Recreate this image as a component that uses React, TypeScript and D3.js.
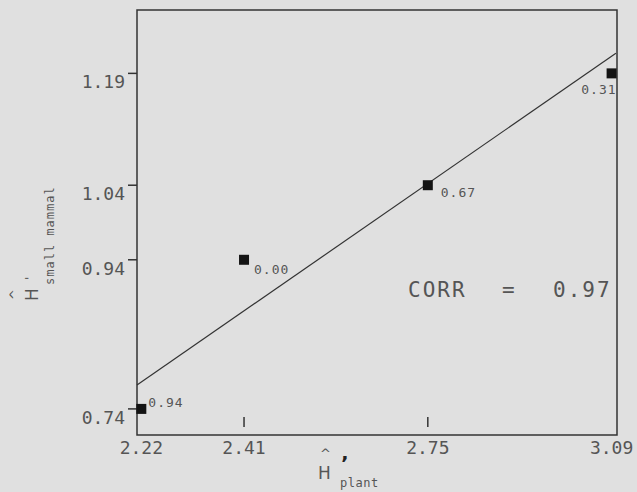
import * as d3 from 'd3'

// measured values (H' plant vs H' small mammal)
const X_VALUES = [2.22, 2.41, 2.75, 3.09]
const Y_VALUES = [0.74, 0.94, 1.04, 1.19]
const POINT_LABELS = ['0.94', '0.00', '0.67', '0.31']
const X_TICKS = [2.22, 2.41, 2.75, 3.09]
const Y_TICKS = [0.74, 0.94, 1.04, 1.19]
// fitted line, read at both ends of the frame
const FIT_X = [2.212, 3.098]
const FIT_Y = [0.772, 1.217]
const CORR = 0.97

const W = 637
const H = 492
const frame = { left: 137, right: 617, top: 10, bottom: 435 }
const BG = '#e0e0e0'
const INK = '#333'
const TXT = '#555'
const MONO = '"DejaVu Sans Mono", monospace'
const SANS = '"DejaVu Sans", sans-serif'

// where each point label sits relative to its marker
const LABEL_POS = [
  { dx: 7, dy: -2, anchor: 'start' },
  { dx: 10, dy: 14, anchor: 'start' },
  { dx: 13, dy: 12, anchor: 'start' },
  { dx: 5, dy: 21, anchor: 'end' },
]

export default function App() {
  const x = d3.scaleLinear().domain([2.212, 3.1]).range([frame.left, frame.right])
  const y = d3.scaleLinear().domain([0.705, 1.275]).range([frame.bottom, frame.top])

  const fitLine = d3
    .line<number>()
    .x((_, i) => x(FIT_X[i]))
    .y((d) => y(d))(FIT_Y)

  const fmt = d3.format('.2f')

  return (
    <svg
      width={W}
      height={H}
      style={{ position: 'absolute', left: 0, top: 0 }}
    >
      <rect width={W} height={H} fill={BG} />

      {/* frame */}
      <rect
        x={frame.left}
        y={frame.top}
        width={frame.right - frame.left}
        height={frame.bottom - frame.top}
        fill="none"
        stroke={INK}
        strokeWidth={1.5}
      />

      {/* y ticks */}
      {Y_TICKS.map((t) => (
        <g key={'y' + t}>
          <line x1={frame.left - 9} x2={frame.left} y1={y(t)} y2={y(t)} stroke={INK} strokeWidth={1.5} />
          <text
            x={frame.left - 12}
            y={y(t) + 15}
            textAnchor="end"
            fontFamily={MONO}
            fontSize={18}
            fill={TXT}
          >
            {fmt(t)}
          </text>
        </g>
      ))}

      {/* x ticks, inside the frame */}
      {X_TICKS.map((t) => (
        <g key={'x' + t}>
          {x(t) - frame.left > 6 && frame.right - x(t) > 6 && (
            <line x1={x(t)} x2={x(t)} y1={frame.bottom - 18} y2={frame.bottom - 8} stroke={INK} strokeWidth={1.5} />
          )}
          <text
            x={Math.min(x(t), frame.right - 3)}
            y={frame.bottom + 19}
            textAnchor="middle"
            fontFamily={MONO}
            fontSize={18}
            fill={TXT}
          >
            {fmt(t)}
          </text>
        </g>
      ))}

      {/* regression line */}
      <path d={fitLine ?? ''} fill="none" stroke={INK} strokeWidth={1.2} />

      {/* points */}
      {X_VALUES.map((v, i) => {
        const px = x(v)
        const py = y(Y_VALUES[i])
        const p = LABEL_POS[i]
        return (
          <g key={'p' + i}>
            <rect x={px - 5} y={py - 5} width={10} height={10} fill="#141414" />
            <text
              x={px + p.dx}
              y={py + p.dy}
              textAnchor={p.anchor}
              fontFamily={MONO}
              fontSize={13}
              letterSpacing={1}
              fill={TXT}
            >
              {POINT_LABELS[i]}
            </text>
          </g>
        )
      })}

      {/* correlation note */}
      <g fontFamily={MONO} fontSize={21} fill={TXT}>
        <text x={408} y={297} letterSpacing={2}>CORR</text>
        <text x={502} y={297}>=</text>
        <text x={553} y={297} letterSpacing={2}>{fmt(CORR)}</text>
      </g>

      {/* x axis title */}
      <g fill={TXT}>
        <text x={318} y={479} fontFamily={SANS} fontSize={17}>H</text>
        <text x={320} y={458} fontFamily={SANS} fontSize={13}>^</text>
        <text x={341} y={470} fontFamily={SANS} fontSize={20} fontWeight="bold" fill="#222">’</text>
        <text x={340} y={487} fontFamily={MONO} fontSize={12} letterSpacing={0.5}>plant</text>
      </g>

      {/* y axis title */}
      <g transform="translate(38,301) rotate(-90)" fill={TXT}>
        <text x={0} y={0} fontFamily={SANS} fontSize={17}>H</text>
        <text x={1} y={-19} fontFamily={SANS} fontSize={13}>^</text>
        <text x={21} y={-4} fontFamily={SANS} fontSize={12}>'</text>
        <text x={16} y={16} fontFamily={MONO} fontSize={12} letterSpacing={1}>small mammal</text>
      </g>
    </svg>
  )
}
